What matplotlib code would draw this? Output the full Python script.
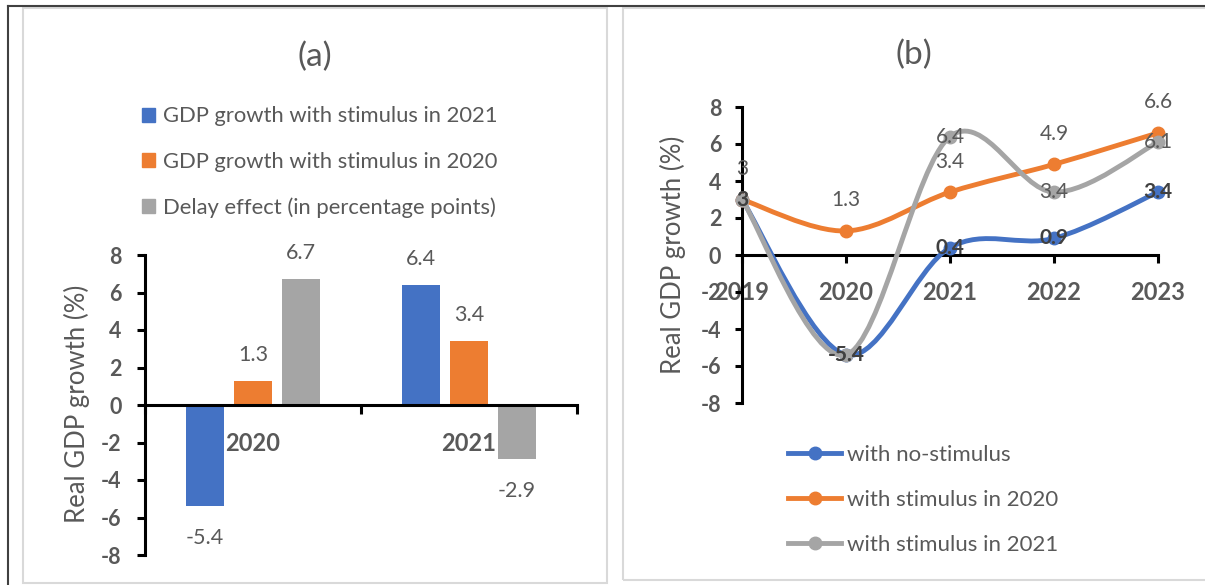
import numpy as np
import matplotlib
matplotlib.use("Agg")
import matplotlib.pyplot as plt
from matplotlib.path import Path
from matplotlib.patches import PathPatch, Rectangle, Patch
from matplotlib.lines import Line2D

plt.rcParams['font.family'] = ['Lato', 'DejaVu Sans']
plt.rcParams['axes.unicode_minus'] = False

# panel (a) data
years_a = ['2020', '2021']
gdp_stim_2021 = [-5.4, 6.4]
gdp_stim_2020 = [1.3, 3.4]
delay_effect = [6.7, -2.9]
labels_a = ['GDP growth with stimulus in 2021',
            'GDP growth with stimulus in 2020',
            'Delay effect (in percentage points)']

# panel (b) data
years_b = ['2019', '2020', '2021', '2022', '2023']
no_stimulus = [3, -5.4, 0.4, 0.9, 3.4]
stimulus_2020 = [3, 1.3, 3.4, 4.9, 6.6]
stimulus_2021 = [3, -5.4, 6.4, 3.4, 6.1]
labels_b = ['with no-stimulus', 'with stimulus in 2020', 'with stimulus in 2021']

BLUE, ORANGE, GRAY = '#4472C4', '#ED7D31', '#A5A5A5'
TXT = '#595959'
W, H = 1205, 585


def fx(px):
    return px / W


def fy(py):
    return 1 - py / H


def smooth_path(xs, ys):
    # excel-style smoothed line (catmull-rom as cubic bezier)
    pts = np.column_stack([xs, ys]).astype(float)
    ext = np.vstack([pts[0], pts, pts[-1]])
    verts = [pts[0]]
    codes = [Path.MOVETO]
    for i in range(len(pts) - 1):
        p0, p1, p2, p3 = ext[i], ext[i + 1], ext[i + 2], ext[i + 3]
        verts += [p1 + (p2 - p0) / 6, p2 - (p3 - p1) / 6, p2]
        codes += [Path.CURVE4] * 3
    return Path(verts, codes)


fig = plt.figure(figsize=(W / 100, H / 100), dpi=100)

# frames
fig.add_artist(Rectangle((fx(23), fy(583)), 584 / W, 575 / H, transform=fig.transFigure,
                         fill=False, ec='#d9d9d9', lw=1.5))
fig.add_artist(Rectangle((fx(623), fy(580)), 600 / W, 572 / H, transform=fig.transFigure,
                         fill=False, ec='#d9d9d9', lw=1.5))
fig.add_artist(Line2D([fx(8), 1], [fy(6), fy(6)], transform=fig.transFigure, color='#404040', lw=1.5))
fig.add_artist(Line2D([fx(8), fx(8)], [0, fy(6)], transform=fig.transFigure, color='#404040', lw=1.5))

# ---------- panel (a) ----------
ax1 = fig.add_axes([fx(145), fy(555), 432 / W, 300 / H])
x = np.arange(len(years_a))
bw = 0.176
step = 0.222
series_a = [gdp_stim_2021, gdp_stim_2020, delay_effect]
for k, (vals, col) in enumerate(zip(series_a, [BLUE, ORANGE, GRAY])):
    xpos = x + (k - 1) * step
    ax1.bar(xpos, vals, width=bw, color=col, zorder=2)
    for xp, v in zip(xpos, vals):
        off = 18.7 if v > 0 else -23
        ax1.annotate(f"{v:g}", (xp, v), xytext=(0, off), textcoords='offset points',
                     ha='center', va='center', fontsize=15.5, color=TXT, annotation_clip=False)

ax1.set_xlim(-0.5, 1.5)
ax1.set_ylim(-8, 8)
ax1.set_yticks(range(-8, 9, 2))
ax1.set_xticks(x)
ax1.set_xticklabels(years_a)
ax1.set_xticks([-0.5, 0.5, 1.5], minor=True)
for s in ['top', 'right']:
    ax1.spines[s].set_visible(False)
ax1.spines['bottom'].set_position(('data', 0))
ax1.spines['left'].set_linewidth(2.2)
ax1.spines['bottom'].set_linewidth(2.2)
ax1.spines['bottom'].set_zorder(3)
ax1.tick_params(axis='x', which='major', length=0, pad=19.5, labelsize=17, labelcolor=TXT)
ax1.tick_params(axis='x', which='minor', length=6.5, width=2.2, direction='out')
ax1.tick_params(axis='y', length=5.8, width=2.2, pad=11, labelsize=15.5, labelcolor=TXT)
for t in ax1.get_xticklabels() + ax1.get_yticklabels():
    t.set_fontweight('bold')
ax1.patch.set_visible(False)

fig.text(fx(77), fy(404), 'Real GDP growth (%)', rotation=90, ha='center', va='center',
         fontsize=18.5, color=TXT)
fig.text(fx(315), fy(57), '(a)', ha='center', va='center', fontsize=24, color=TXT)

handles_a = [Patch(color=c) for c in [BLUE, ORANGE, GRAY]]
fig.legend(handles_a, labels_a, loc='center left', bbox_to_anchor=(fx(142), fy(162)),
           frameon=False, fontsize=15.8, labelcolor=TXT, borderpad=0, borderaxespad=0,
           handlelength=0.6, handleheight=0.6, handletextpad=0.35, labelspacing=1.15)

# ---------- panel (b) ----------
ax2 = fig.add_axes([fx(742), fy(403), 416 / W, 296 / H])
xb = np.arange(len(years_b))
series_b = [no_stimulus, stimulus_2020, stimulus_2021]
colors_b = [BLUE, ORANGE, GRAY]
for k, (vals, col) in enumerate(zip(series_b, colors_b)):
    ax2.add_patch(PathPatch(smooth_path(xb, vals), fill=False, ec=col, lw=3.5,
                            capstyle='round', joinstyle='round', zorder=3 + k, clip_on=False))
    ax2.plot(xb, vals, 'o', color=col, ms=9, zorder=3 + k, clip_on=False)

for xp, v in zip(xb, stimulus_2020):
    ax2.annotate(f"{v:g}", (xp, v), xytext=(0, 22), textcoords='offset points',
                 ha='center', va='center', fontsize=15, color=TXT, zorder=10,
                 annotation_clip=False)
for xp, v in zip(xb, stimulus_2021):
    ax2.annotate(f"{v:g}", (xp, v), ha='center', va='center', fontsize=15, color=TXT,
                 zorder=10, annotation_clip=False)
for xp, v in zip(xb, no_stimulus):
    ax2.annotate(f"{v:g}", (xp, v), ha='center', va='center', fontsize=15, color='#404040',
                 fontweight='bold', zorder=11, annotation_clip=False)

ax2.set_xlim(0, 4)
ax2.set_ylim(-8, 8)
ax2.set_yticks(range(-8, 9, 2))
ax2.set_xticks(xb)
ax2.set_xticklabels(years_b)
for s in ['top', 'right']:
    ax2.spines[s].set_visible(False)
ax2.spines['bottom'].set_position(('data', 0))
ax2.spines['left'].set_linewidth(2.2)
ax2.spines['bottom'].set_linewidth(2.2)
ax2.tick_params(axis='x', length=5.8, width=2.2, pad=13, labelsize=17, labelcolor=TXT)
ax2.tick_params(axis='y', length=5, width=2.2, pad=10, labelsize=15.5, labelcolor=TXT)
for t in ax2.get_xticklabels() + ax2.get_yticklabels():
    t.set_fontweight('bold')
ax2.patch.set_visible(False)

fig.text(fx(673), fy(255), 'Real GDP growth (%)', rotation=90, ha='center', va='center',
         fontsize=18.5, color=TXT)
fig.text(fx(914), fy(55), '(b)', ha='center', va='center', fontsize=24, color=TXT)

handles_b = [Line2D([], [], color=c, lw=3.5, marker='o', ms=9) for c in colors_b]
fig.legend(handles_b, labels_b, loc='center left', bbox_to_anchor=(fx(788), fy(500)),
           frameon=False, fontsize=16, labelcolor=TXT, borderpad=0, borderaxespad=0,
           handlelength=2.4, handletextpad=0.25, labelspacing=1.13)

plt.savefig("out.png", dpi=100)
plt.close()
